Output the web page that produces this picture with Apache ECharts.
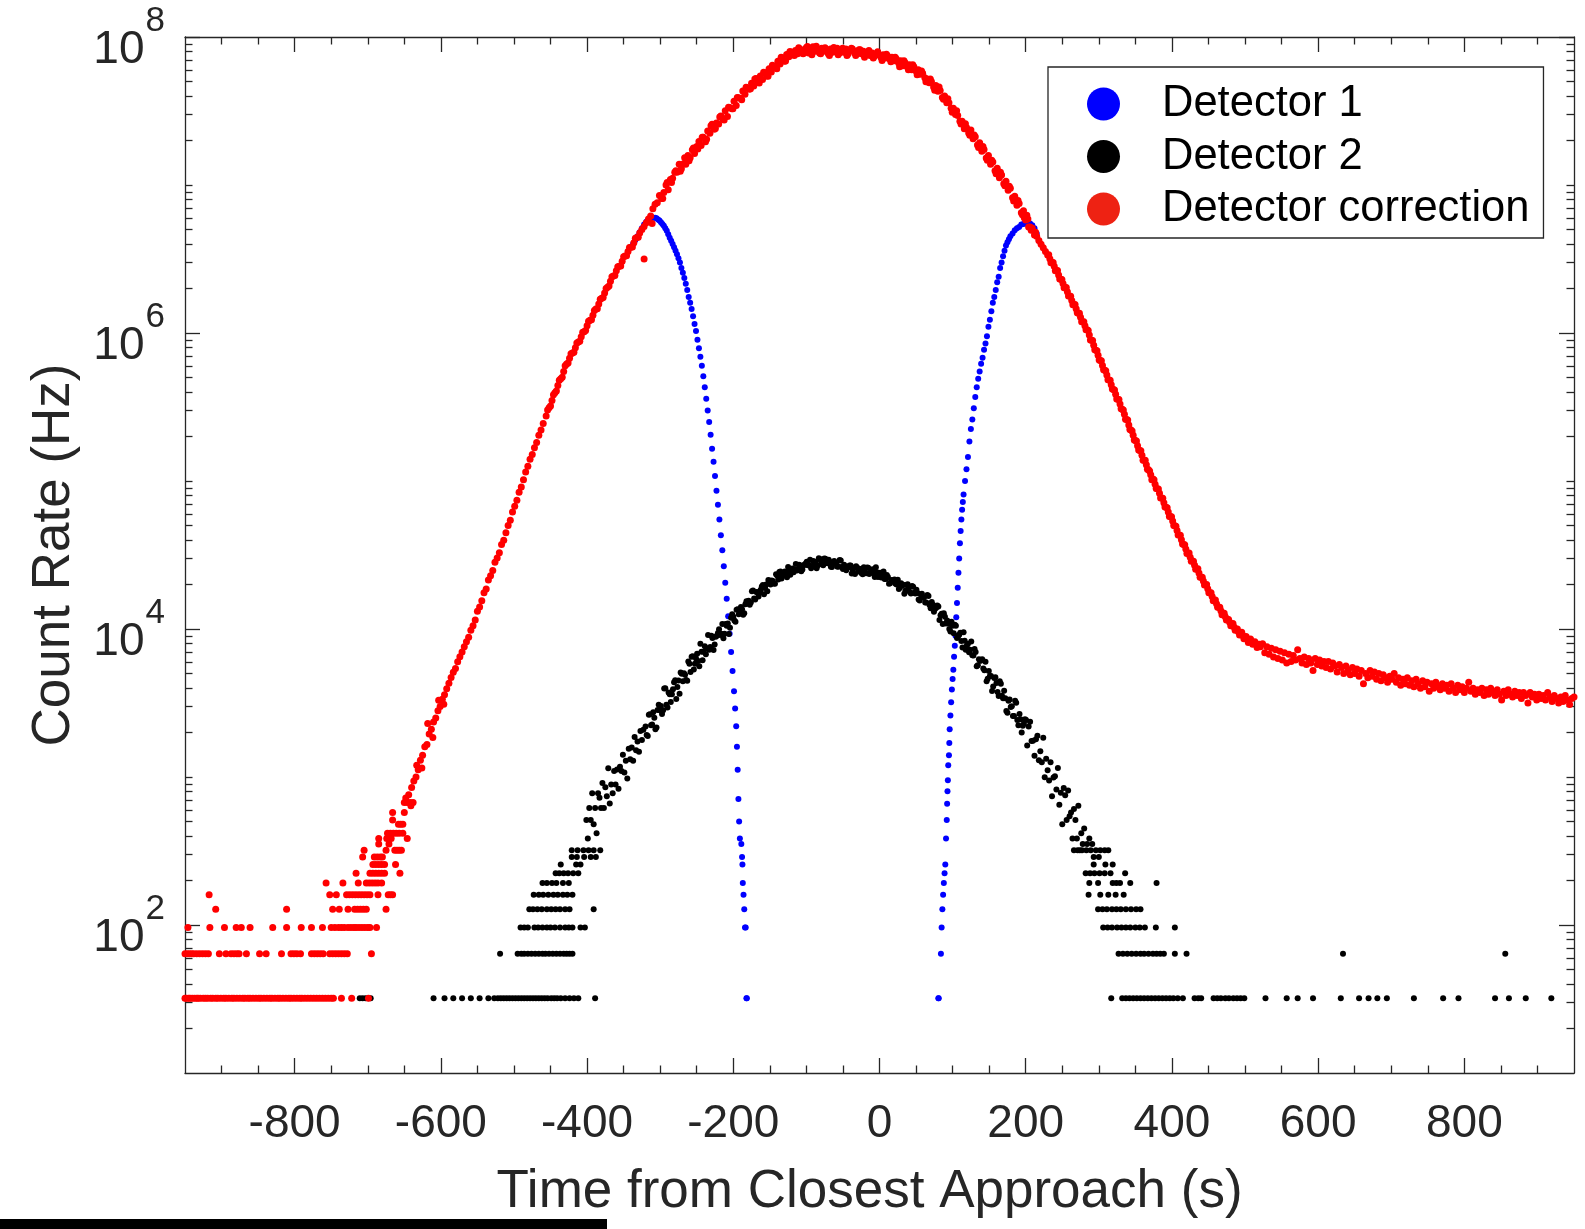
<!DOCTYPE html>
<html>
<head>
<meta charset="utf-8">
<script src="https://cdn.jsdelivr.net/npm/echarts@6/dist/echarts.min.js"></script>
<style>html,body{margin:0;padding:0;background:#fff}#c{width:1585px;height:1229px}</style>
</head>
<body>
<div id="c"></div>
<script>
// ---------- tick labels ----------
const xMajorTicks = [-800, -600, -400, -200, 0, 200, 400, 600, 800];
const yMajorTicks = [1e2, 1e4, 1e6, 1e8];
const seriesNames = ['Detector 1', 'Detector 2', 'Detector correction'];

// ---------- Detector 1 (blue) ----------
const det1Left = [[-337,4.0e6],[-334,4.25e6],[-331,4.5e6],[-328,4.8e6],[-325,5.1e6],[-322,5.4e6],[-319,5.65e6],[-316,5.85e6],[-313,5.95e6],[-310,6.0e6],
[-307,6.0e6],[-305,5.95e6],[-303,5.85e6],[-301,5.75e6],[-299,5.6e6],[-297,5.45e6],[-295,5.3e6],[-293,5.1e6],[-291,4.9e6],[-289,4.65e6],[-287,4.4e6],[-285,4.2e6],[-283,4.0e6],[-281,3.8e6],[-279,3.6e6],[-277,3.4e6],[-275,3.2e6],[-273,3.0e6],[-271,2.75e6],[-269,2.55e6],[-267,2.35e6],[-265,2.15e6],[-263,1.95e6],[-261,1.75e6],[-259,1.6e6],[-257,1.45e6],[-255,1.3e6],[-253,1.15e6],[-251,1.03e6],[-249,9.0e5],[-247,7.9e5],[-245,6.9e5],[-243,6.0e5],[-241,5.1e5],[-239,4.3e5],[-237,3.6e5],[-235,3.0e5],[-233,2.5e5],[-231,2.05e5],[-229,1.65e5],[-227,1.35e5],[-225,1.08e5],[-223,8.6e4],[-221,6.9e4],[-219,5.5e4],[-217,4.3e4],[-215,3.4e4],[-213,2.65e4],[-211,2.05e4],[-209,1.6e4],[-207,1.22e4],[-205,9.3e3],[-203,7.0e3],[-201,5.2e3],[-199,3.8e3],[-197.5,2.9e3],[-196,2.2e3],[-195,1.6e3],[-194,1.12e3],[-193,710],[-192,500],[-191,384],[-189,352],[-188,288],[-187.5,256],[-187,192],[-186,160],[-185,128],[-184,96],[-183,96],[-182,32],[-181.5,32]];
const det1Right = [[218,4.2e6],[215,4.7e6],[212,5.1e6],[209,5.35e6],[206,5.5e6],[203,5.5e6],[200,5.5e6],[197,5.45e6],[194,5.4e6],[191,5.2e6],[188,5.1e6],[185,4.95e6],[182,4.7e6],[179,4.5e6],[177,4.3e6],[175,4.1e6],[173,3.9e6],[171,3.6e6],[169,3.3e6],[167,3.0e6],[165,2.75e6],[163,2.4e6],[161,2.2e6],[159,1.95e6],[157,1.75e6],[155,1.6e6],[153,1.4e6],[151,1.23e6],[149,1.1e6],[147,9.5e5],[145,8.5e5],[143,7.7e5],[141,6.8e5],[139,6.2e5],[137,5.5e5],[135,4.9e5],[133,4.3e5],[131,3.7e5],[129,3.1e5],[127,2.6e5],[125,2.25e5],[123,1.85e5],[121,1.45e5],[119,1.2e5],[117,1.0e5],[115,8.1e4],[114,7.2e4],[113,6.4e4],[112,5.5e4],[111,4.6e4],[110,3.8e4],[109,3.0e4],[108,2.4e4],[107,1.9e4],[106,1.5e4],[105,1.2e4],[104,9.0e3],[103,7.7e3],[102,6.5e3],[101,5.3e3],[100,4.6e3],[99,3.9e3],[98,3.2e3],[97,2.6e3],[96,2.1e3],[95.5,1.7e3],[95,1.4e3],[94,1.2e3],[93.5,950],[93,800],[92.5,660],[92,512],[91,384],[90,256],[89,224],[88,192],[87,160],[86,128],[85,96],[84,64],[81,32],[80.5,32]];

// ---------- Detector 2 (black) ----------
const det2LowLeft = [[-711,32],[-707,32],[-703,32],[-699,32],[-696,32],[-610,32],[-595,32],[-583,32],[-571,32],[-559,32],[-547,32],[-535,32],[-527,32],[-522,32],[-518,32],[-514,32],[-510,32],[-506,32],[-502,32],[-498,32],[-494,32],[-490,32],[-486,32],[-482,32],[-478,32],[-474,32],[-470,32],[-466,32],[-462,32],[-458,32],[-454,32],[-449,32],[-445,32],[-441,32],[-436,32],[-430,32],[-424,32],[-418,32],[-412,32],[-389,32],
[-519,64],[-495,64],[-490,64],[-486,64],[-481,64],[-476,64],[-471,64],[-466,64],[-461,64],[-457,64],[-452,64],[-447,64],[-442,64],[-437,64],[-432,64],[-428,64],[-424,64],[-420,64],
[-491,96],[-486,96],[-481,96],[-472,96],[-467,96],[-461,96],[-455,96],[-450,96],[-444,96],[-437,96],[-430,96],[-425,96],[-420,96],[-409,96],[-403,96],
[-479,128],[-474,128],[-468,128],[-462,128],[-455,128],[-449,128],[-443,128],[-437,128],[-430,128],[-424,128],[-391,128],
[-473,160],[-466,160],[-460,160],[-453,160],[-446,160],[-440,160],[-433,160],[-427,160],[-420,160],
[-461,192],[-455,192],[-448,192],[-442,192],[-433,192],[-425,192],
[-443,224],[-438,224],[-432,224],[-426,224],[-419,224],[-412,224],
[-436,256],[-415,256],[-409,256],
[-421,288],[-414,288],[-404,288],[-395,288],[-388,288],
[-421,320],[-413,320],[-405,320],[-398,320],[-391,320],[-382,320]];
const det2Curve = [[-401,512],[-399,384],[-397,617],[-395,512],[-393,776],[-391,480],[-389,617],[-387,416],[-385,776],[-383,724],[-381,617],[-379,912],[-377,617],[-375,851],[-373,741],[-371,1148],[-369,661],[-367,891],[-365,776],[-363,1096],[-361,891],[-359,1122],[-357,832],[-355,1175],[-353,1096],[-351,1413],[-349,1072],[-347,1288],[-345,977],[-343,1549],[-341,1318],[-339,1585],[-337,1288],[-335,1862],[-333,1514],[-331,1738],[-329,1479],[-327,2042],[-325,1778],[-323,2089],
[-320,2.19e3],[-317,1.89e3],[-314,2.65e3],[-311,2.26e3],[-308,2.51e3],[-305,2.16e3],[-302,3.08e3],[-299,3.02e3],[-296,2.82e3],[-293,3.98e3],[-290,2.95e3],[-287,3.63e3],[-284,3.63e3],[-281,4.37e3],[-278,3.37e3],[-275,4.49e3],[-272,5.09e3],[-269,4.43e3],[-266,4.91e3],[-263,4.47e3],[-260,5.82e3],[-257,6.5e3],[-254,5.32e3],[-251,6.31e3],[-248,6.08e3],[-245,7.94e3],[-242,6.14e3],[-239,7.64e3],[-236,7.41e3],[-233,7.24e3],[-230,9.02e3],[-227,7.21e3],[-224,8.85e3],[-221,9.4e3],[-218,9.12e3],[-215,1.08e4],[-212,9.3e3],[-209,1.05e4],[-206,9.25e3],[-203,1.19e4],[-200,1.21e4],[-197,1.12e4],[-194,1.36e4],[-191,1.28e4],[-188,1.36e4],[-185,1.28e4],[-182,1.54e4],[-179,1.55e4],[-176,1.51e4],[-173,1.82e4],[-170,1.58e4],[-167,1.77e4],[-164,1.77e4],[-161,1.94e4],[-158,1.72e4],[-155,2.0e4],[-152,2.14e4],[-149,2.0e4],[-146,2.11e4],[-143,2.02e4],[-140,2.3e4],[-137,2.43e4],[-134,2.19e4],[-131,2.37e4],[-128,2.33e4],[-125,2.62e4],[-122,2.33e4],[-119,2.56e4],[-116,2.51e4],[-113,2.48e4],[-110,2.72e4],[-107,2.46e4],[-104,2.7e4],[-101,2.77e4],[-98,2.7e4],[-95,2.94e4],[-92,2.66e4],[-89,2.81e4],[-86,2.57e4],[-83,3.01e4],[-80,2.88e4],[-77,2.7e4],[-74,2.98e4],[-71,2.78e4],[-68,2.82e4],[-65,2.62e4],[-62,2.88e4],[-59,2.79e4],[-56,2.64e4],[-53,2.9e4],[-50,2.54e4],[-47,2.65e4],[-44,2.58e4],[-41,2.69e4],[-38,2.37e4],[-35,2.59e4],[-32,2.65e4],[-29,2.45e4],[-26,2.49e4],[-23,2.34e4],[-20,2.54e4],[-17,2.6e4],[-14,2.35e4],[-11,2.47e4],[-8,2.38e4],[-5,2.61e4],[-2,2.25e4],[1,2.4e4],[4,2.28e4],[7,2.18e4],[10,2.32e4],[13,2.02e4],[16,2.14e4],[19,2.13e4],[22,2.02e4],[25,2.15e4],[28,1.91e4],[31,1.97e4],[34,1.73e4],[37,1.98e4],[40,1.91e4],[43,1.74e4],[46,1.93e4],[49,1.74e4],[52,1.75e4],[55,1.56e4],[58,1.73e4],[61,1.64e4],[64,1.51e4],[67,1.67e4],[70,1.38e4],[73,1.46e4],[76,1.37e4],[79,1.44e4],[82,1.15e4],[85,1.27e4],[88,1.28e4],[91,1.09e4],[94,1.09e4],[97,9.6e3],[100,1.05e4],[103,1.07e4],[106,8.69e3],[109,9.14e3],[112,8.3e3],[115,9.51e3],[118,7.23e3],[121,7.94e3],[124,7.24e3],[127,6.64e3],[130,7.33e3],[133,5.61e3],[136,6.25e3],[139,6.12e3],[142,5.41e3],[145,6.0e3],[148,4.61e3],[151,4.81e3],[154,3.81e3],[157,4.66e3],[160,4.32e3],[163,3.53e3],[166,4.27e3],[169,3.41e3],[172,3.4e3],[175,2.72e3],[178,3.34e3],[181,3.01e3],[184,2.58e3],[187,3.17e3],[190,2.24e3],[193,2.46e3],[196,2.22e3],[199,2.46e3],[202,1.63e3],
[204,2.19e3],[206,2.36e3],[208,1.75e3],[210,1.76e3],[212,1.39e3],[214,1.8e3],[216,1.9e3],[218,1.3e3],[220,1.49e3],[222,1.26e3],[224,1.84e3],[226,998],[228,1.33e3],[230,1.11e3],[232,946],[234,1.26e3],[236,741],[238,991],[240,1.01e3],[242,822],[244,1.15e3],[246,650],[248,783],[250,480],[252,843],[254,753],[256,512],[258,811],[260,544],[262,576],[264,384],[266,608],[268,512],[270,384],[272,640],[274,320],[276,416],[278,352],[280,448],[284,352],[287,384],[291,352]];
const det2CurveB = [[-318.5,1.92e3],[-315.5,2.63e3],[-312.5,2.24e3],[-309.5,2.74e3],[-306.5,2.1e3],[-303.5,2.84e3],[-300.5,2.82e3],[-297.5,2.67e3],[-294.5,3.96e3],[-291.5,3.08e3],[-288.5,3.72e3],[-285.5,3.21e3],[-282.5,3.92e3],[-279.5,4.5e3],[-276.5,4.06e3],[-273.5,3.65e3],[-270.5,4.98e3],[-267.5,5.02e3],[-264.5,4.53e3],[-261.5,6.03e3],[-258.5,5.12e3],[-255.5,6.55e3],[-252.5,5.83e3],[-249.5,6.81e3],[-246.5,5.6e3],[-243.5,7.03e3],[-240.5,7.03e3],[-237.5,6.75e3],[-234.5,9.12e3],[-231.5,7.57e3],[-228.5,8.69e3],[-225.5,7.85e3],[-222.5,9.02e3],[-219.5,9.95e3],[-216.5,9.29e3],[-213.5,8.65e3],[-210.5,1.08e4],[-207.5,1.09e4],[-204.5,1.02e4],[-201.5,1.26e4],[-198.5,1.14e4],[-195.5,1.35e4],[-192.5,1.26e4],[-189.5,1.41e4],[-186.5,1.25e4],[-183.5,1.47e4],[-180.5,1.49e4],[-177.5,1.46e4],[-174.5,1.8e4],[-171.5,1.61e4],[-168.5,1.78e4],[-165.5,1.66e4],[-162.5,1.84e4],[-159.5,1.98e4],[-156.5,1.89e4],[-153.5,1.8e4],[-150.5,2.12e4],[-147.5,2.13e4],[-144.5,2.03e4],[-141.5,2.34e4],[-138.5,2.16e4],[-135.5,2.45e4],[-132.5,2.29e4],[-129.5,2.45e4],[-126.5,2.24e4],[-123.5,2.48e4],[-120.5,2.48e4],[-117.5,2.42e4],[-114.5,2.75e4],[-111.5,2.52e4],[-108.5,2.69e4],[-105.5,2.52e4],[-102.5,2.72e4],[-99.5,2.85e4],[-96.5,2.71e4],[-93.5,2.57e4],[-90.5,2.88e4],[-87.5,2.84e4],[-84.5,2.69e4],[-81.5,2.97e4],[-78.5,2.74e4],[-75.5,2.99e4],[-72.5,2.79e4],[-69.5,2.94e4],[-66.5,2.63e4],[-63.5,2.84e4],[-60.5,2.76e4],[-57.5,2.63e4],[-54.5,2.92e4],[-51.5,2.61e4],[-48.5,2.72e4],[-45.5,2.49e4],[-42.5,2.62e4],[-39.5,2.69e4],[-36.5,2.51e4],[-33.5,2.35e4],[-30.5,2.59e4],[-27.5,2.55e4],[-24.5,2.38e4],[-21.5,2.61e4],[-18.5,2.38e4],[-15.5,2.59e4],[-12.5,2.41e4],[-9.5,2.53e4],[-6.5,2.25e4],[-3.5,2.42e4],[-0.5,2.34e4],[2.5,2.23e4],[5.5,2.45e4],[8.5,2.18e4],[11.5,2.25e4],[14.5,2.04e4],[17.5,2.12e4],[20.5,2.16e4],[23.5,2.0e4],[26.5,1.86e4],[29.5,2.04e4],[32.5,1.99e4],[35.5,1.82e4],[38.5,2.01e4],[41.5,1.78e4],[44.5,1.95e4],[47.5,1.76e4],[50.5,1.84e4],[53.5,1.58e4],[56.5,1.71e4],[59.5,1.63e4],[62.5,1.51e4],[65.5,1.7e4],[68.5,1.45e4],[71.5,1.52e4],[74.5,1.31e4],[77.5,1.39e4],[80.5,1.42e4],[83.5,1.24e4],[86.5,1.08e4],[89.5,1.21e4],[92.5,1.14e4],[95.5,1.0e4],[98.5,1.12e4],[101.5,9.35e3],[104.5,1.05e4],[107.5,8.95e3],[110.5,9.42e3],[113.5,7.5e3],[116.5,8.32e3],[119.5,7.73e3],[122.5,6.97e3],[125.5,8.22e3],[128.5,6.61e3],[131.5,6.98e3],[134.5,5.69e3],[137.5,6.11e3],[140.5,6.25e3],[143.5,5.27e3],[146.5,4.44e3],[149.5,5.21e3],[152.5,4.82e3],[155.5,4.08e3],[158.5,4.72e3],[161.5,3.75e3],[164.5,4.43e3],[167.5,3.54e3],[170.5,3.82e3],[173.5,2.79e3],[176.5,3.27e3],[179.5,2.97e3],[182.5,2.58e3],[185.5,3.28e3],[188.5,2.43e3],[191.5,2.66e3],[194.5,2.0e3],[197.5,2.29e3],[200.5,2.43e3]];
const det2LowRight = [[266,320],[271,320],[277,320],[283,320],[289,320],[296,320],[302,320],[308,320],[313,320],
[293,288],[300,288],[293,256],[309,256],[319,256],
[282,224],[288,224],[294,224],[301,224],[308,224],[316,224],[336,224],
[287,192],[299,192],[319,192],[324,192],[329,192],[343,192],[379,192],
[286,160],[302,160],[313,160],[323,160],[334,160],
[299,128],[305,128],[311,128],[318,128],[324,128],[330,128],[337,128],[344,128],[351,128],[357,128],
[306,96],[312,96],[318,96],[325,96],[331,96],[337,96],[343,96],[350,96],[356,96],[363,96],[378,96],[404,96],
[327,64],[333,64],[339,64],[345,64],[351,64],[357,64],[362,64],[368,64],[374,64],[379,64],[384,64],[389,64],[404,64],[420,64],[634,64],[856,64],
[317,32],[332,32],[337,32],[342,32],[347,32],[352,32],[357,32],[362,32],[367,32],[372,32],[377,32],[382,32],[387,32],[392,32],[397,32],[402,32],[408,32],[415,32],[431,32],[436,32],[440,32],[457,32],[462,32],[467,32],[473,32],[478,32],[484,32],[489,32],[494,32],[499,32],[528,32],[557,32],[572,32],[593,32],[631,32],[656,32],[669,32],[681,32],[694,32],[731,32],[771,32],[792,32],[842,32],[861,32],[884,32],[919,32]];

// ---------- Detector correction (red) ----------
const corrLowTail = [[-950,32],[-948,32],[-945,32],[-943,32],[-940,32],[-937,32],[-934,32],[-932,32],[-929,32],[-925,32],[-922,32],[-919,32],[-915,32],[-912,32],[-908,32],[-905,32],[-901,32],[-897,32],[-894,32],[-890,32],[-886,32],[-883,32],[-879,32],[-875,32],[-871,32],[-868,32],[-864,32],[-861,32],[-857,32],[-853,32],[-849,32],[-846,32],[-842,32],[-838,32],[-834,32],[-831,32],[-827,32],[-823,32],[-820,32],[-816,32],[-812,32],[-808,32],[-805,32],[-801,32],[-797,32],[-793,32],[-790,32],[-786,32],[-782,32],[-778,32],[-774,32],[-770,32],[-766,32],[-762,32],[-758,32],[-754,32],[-750,32],[-747,32],[-736,32],[-722,32],[-699,32],
[-950,64],[-947,64],[-944,64],[-941,64],[-938,64],[-934,64],[-930,64],[-926,64],[-922,64],[-918,64],[-903,64],[-894,64],[-887,64],[-883,64],[-879,64],[-876,64],[-866,64],[-848,64],[-839,64],[-818,64],[-805,64],[-801,64],[-797,64],[-792,64],[-777,64],[-773,64],[-769,64],[-765,64],[-761,64],[-752,64],[-748,64],[-744,64],[-740,64],[-736,64],[-732,64],[-728,64],[-695,64],
[-946,96],[-916,96],[-896,96],[-880,96],[-873,96],[-861,96],[-830,96],[-811,96],[-791,96],[-777,96],[-762,96],[-750,96],[-745,96],[-740,96],[-736,96],[-732,96],[-727,96],[-723,96],[-719,96],[-716,96],[-712,96],[-708,96],[-704,96],[-700,96],[-697,96],[-688,96],
[-908,128],[-811,128],[-748,128],[-739,128],[-727,128],[-718,128],[-714,128],[-710,128],[-706,128],[-702,128],[-675,128],
[-917,160],[-752,160],[-743,160],[-729,160],[-725,160],[-721,160],[-717,160],[-713,160],[-709,160],[-705,160],[-701,160],[-697,160],[-686,160],[-672,160],[-669,160],[-666,160],
[-757,192],[-734,192],[-713,192],[-702,192],[-698,192],[-694,192],[-690,192],[-686,192],[-681,192],
[-716,224],[-697,224],[-693,224],[-689,224],[-685,224],[-681,224],[-677,224],[-656,224],
[-693,256],[-689,256],[-685,256],[-681,256],[-677,256],[-662,256],
[-707,288],[-691,288],[-687,288],[-683,288],[-680,288],
[-705,320],[-675,320],[-663,320],[-660,320],[-657,320],[-654,320],
[-685,352],[-671,352],
[-685,384],[-674,384],[-671,384],[-668,384],[-646,384],
[-673,416],[-669,416],[-665,416],[-661,416],[-657,416],[-652,416],
[-658,480],[-655,480],[-652,480],[-666,512],[-666,576],[-650,576],
[-650,672],[-646,672],[-642,672],[-638,672]];
const corrCurve = [[-648,720],[-644,760],[-641,640],[-640,850],[-637,940],[-634,1000],[-633,1200],[-631,1120],[-628,1300],[-626,1150],[-625,1400],[-622,1600],[-619,1660],[-618,2300],[-616,1950],[-613,2100],[-611,1850],[-610,2350],[-607,2500],[-604,2800],[-603,3300],[-601,3000],[-598,3350],[-596,3100],[-595,3600],[-592,3950],[-589,4300],[-586,4700],[-583,5100],[-580,5400],[-577,6000],[-574,6500],[-571,7000],[-568,7600],[-565,8200],[-562,8800],
[-559,9.8e3],[-556,1.05e4],[-553,1.15e4],[-550,1.32e4],[-547,1.41e4],[-544,1.55e4],[-541,1.76e4],[-538,1.86e4],[-535,2.14e4],[-532,2.29e4],[-529,2.48e4],[-526,2.82e4],[-523,3.02e4],[-520,3.27e4],[-517,3.72e4],[-514,3.98e4],[-511,4.47e4],[-508,5.0e4],[-505,5.43e4],[-502,6.17e4],[-499,6.76e4],[-496,7.41e4],[-493,8.41e4],[-490,9.12e4],[-487,1.02e5],[-484,1.15e5],[-481,1.26e5],[-478,1.4e5],[-475,1.51e5],[-472,1.68e5],[-469,1.82e5],[-466,2.04e5],[-463,2.21e5],[-460,2.45e5],
[-456,2.75e5],[-452,3.13e5],[-448,3.5e5],[-444,3.94e5],[-440,4.42e5],[-436,4.9e5],[-432,5.5e5],[-428,6.17e5],[-424,6.76e5],[-420,7.33e5],[-416,7.94e5],[-412,8.7e5],[-408,9.44e5],[-404,1.02e6],[-400,1.12e6],[-396,1.22e6],[-392,1.32e6],[-388,1.45e6],[-384,1.57e6],[-380,1.72e6],[-376,1.86e6],[-372,2.04e6],[-368,2.24e6],[-364,2.43e6],[-360,2.63e6],[-356,2.82e6],[-352,3.05e6],[-348,3.31e6],[-344,3.55e6],[-340,3.8e6],[-336,4.07e6],[-332,4.42e6],[-328,4.73e6],[-325,5.0e6],[-322,3.16e6],[-322,5.25e6],[-319,5.56e6],[-316,5.9e6],[-313,6.17e6],[-311,5.5e6],[-310,6.9e6],
[-307,7.4e6],[-304,7.6e6],[-301,8.5e6],[-298,8.1e6],[-295,8.9e6],[-292,1.0e7],[-289,9.3e6],[-286,1.09e7],[-283,1.11e7],[-280,1.22e7],[-277,1.22e7],[-274,1.38e7],[-271,1.29e7],[-268,1.39e7],[-265,1.38e7],[-262,1.58e7],[-259,1.53e7],[-256,1.73e7],[-253,1.63e7],[-250,1.82e7],[-247,1.97e7],[-244,1.85e7],[-241,2.1e7],[-238,1.96e7],[-235,2.32e7],[-232,2.24e7],[-229,2.57e7],[-226,2.38e7],[-223,2.62e7],[-220,2.58e7],[-217,2.93e7],[-214,2.79e7],[-211,3.17e7],[-208,2.9e7],[-205,3.34e7],[-202,3.28e7],[-199,3.68e7],[-196,3.45e7],[-193,3.88e7],[-190,3.86e7],[-187,4.31e7],[-184,4.1e7],[-181,4.54e7],[-178,4.43e7],[-175,4.87e7],[-172,4.66e7],[-169,5.25e7],[-166,5.03e7],[-163,5.46e7],[-160,5.16e7],[-157,5.73e7],[-154,5.45e7],[-151,6.1e7],[-148,5.79e7],[-145,6.36e7],[-142,6.27e7],[-139,6.87e7],[-136,6.56e7],[-133,7.2e7],[-130,6.87e7],[-127,7.62e7],[-124,7.35e7],[-121,7.9e7],[-118,7.6e7],
[-115,8.1e7],[-112,7.7e7],[-109,8.3e7],[-106,7.9e7],[-103,8.2e7],[-100,8.5e7],[-97,7.8e7],[-94,8.1e7],[-91,8.6e7],[-88,8.0e7],[-85,8.3e7],[-82,7.8e7],[-79,8.4e7],[-76,8.0e7],[-73,8.2e7],[-70,7.7e7],[-67,8.3e7],[-64,7.9e7],[-61,8.1e7],[-58,8.4e7],[-55,7.8e7],[-52,8.2e7],[-49,7.9e7],[-46,8.3e7],[-43,7.7e7],[-40,8.1e7],[-37,8.3e7],[-34,7.8e7],[-31,8.0e7],[-28,8.2e7],[-25,7.7e7],[-22,8.0e7],[-19,7.6e7],[-16,7.9e7],[-13,7.5e7],[-10,7.8e7],[-7,7.4e7],[-4,7.7e7],[-1,7.6e7],[2,7.3e7],[5,7.6e7],[8,7.2e7],[11,7.45e7],[14,7.1e7],[17,7.3e7],[20,6.9e7],[23,7.1e7],[26,6.7e7],[29,6.9e7],[32,6.4e7],[35,6.7e7],[38,6.3e7],[41,6.5e7],[44,6.0e7],[47,6.3e7],[50,5.9e7],[53,6.0e7],[56,5.6e7],[59,5.7e7],[62,5.3e7],[65,5.2e7],[68,4.9e7],[71,5.0e7],[74,4.6e7],[77,4.7e7],[80,4.3e7],[83,4.35e7],[86,3.9e7],[89,4.0e7],[92,3.6e7],[95,3.6e7],[98,3.3e7],[101,3.3e7],[104,3.0e7],[107,2.95e7],[110,2.7e7],[113,2.7e7],[116,2.4e7],[119,2.45e7],
[122,2.25e7],[125,2.35e7],[128,2.05e7],[131,2.12e7],[134,1.86e7],[137,1.93e7],[140,1.69e7],[143,1.74e7],[146,1.52e7],[149,1.58e7],[152,1.38e7],[155,1.43e7],[158,1.25e7],[161,1.3e7],[164,1.12e7],[167,1.17e7],[170,1.02e7],[173,1.06e7],[176,9.2e6],[179,9.5e6],[182,8.2e6],[185,8.4e6],[188,7.3e6],[191,7.5e6],[194,6.5e6],[197,6.7e6],[198,6.0e6],[200,5.8e6],[203,5.9e6],[204,5.2e6],[206,5.2e6],[209,5.1e6],[212,4.6e6],[215,4.5e6],
[218,4.22e6],[221,3.98e6],[224,3.77e6],[227,3.55e6],[230,3.36e6],[233,3.17e6],[236,3.0e6],[239,2.82e6],[242,2.64e6],[245,2.47e6],[248,2.31e6],[251,2.16e6],[254,2.03e6],[257,1.9e6],[260,1.78e6],[263,1.66e6],[266,1.56e6],[269,1.46e6],[272,1.36e6],[275,1.28e6],[278,1.19e6],[281,1.12e6],[284,1.05e6],[287,9.68e5],[290,8.95e5],[293,8.28e5],[296,7.66e5],[299,7.08e5],[302,6.53e5],[305,6.04e5],[308,5.6e5],[311,5.2e5],[314,4.82e5],[317,4.47e5],[320,4.15e5],[323,3.85e5],[326,3.57e5],[329,3.31e5],[332,3.05e5],[335,2.82e5],[338,2.6e5],[341,2.39e5],[344,2.21e5],[347,2.04e5],[350,1.88e5],[353,1.73e5],[356,1.61e5],[359,1.49e5],[362,1.38e5],[365,1.29e5],[368,1.19e5],[371,1.1e5],[374,1.03e5],[377,9.5e4],[380,8.87e4],[383,8.26e4],[386,7.67e4],[389,7.14e4],[392,6.65e4],[395,6.18e4],[398,5.75e4],[401,5.36e4],[404,4.98e4],[407,4.63e4],[410,4.31e4],[413,4.01e4],[416,3.73e4],[419,3.47e4],[422,3.25e4],[425,3.05e4],[428,2.88e4],[431,2.7e4],[434,2.54e4],[437,2.39e4],[440,2.24e4],[443,2.11e4],[446,1.99e4],[449,1.87e4],[452,1.76e4],[455,1.66e4],[458,1.56e4],[461,1.48e4],[464,1.4e4],[467,1.33e4],[470,1.27e4],[473,1.21e4],[476,1.16e4],[479,1.11e4],[482,1.07e4],[485,1.03e4],[488,9.9e3],[491,9.57e3],[494,9.31e3],[497,9.04e3],[500,8.77e3],[503,8.51e3],[506,8.35e3],[509,8.19e3],[512,8.03e3],[515,7.88e3],[518,7.73e3],[521,7.59e3]];
const corrFlankB = [[-454,3.02e5],[-450,3.21e5],[-446,3.82e5],[-442,4.05e5],[-438,4.79e5],[-434,5.03e5],[-430,6.0e5],[-426,6.26e5],[-422,7.25e5],[-418,7.4e5],[-414,8.56e5],[-410,8.79e5],[-406,1.01e6],[-402,1.04e6],[-398,1.2e6],[-394,1.23e6],[-390,1.42e6],[-386,1.46e6],[-382,1.69e6],[-378,1.74e6],[-374,2.0e6],[-370,2.08e6],[-366,2.4e6],[-362,2.45e6],[-358,2.8e6],[-354,2.84e6],[-350,3.28e6],[-346,3.33e6],[-342,3.78e6],[-338,3.81e6],[-334,4.37e6],[-330,4.43e6],
[-296.5,8.1e6],[-290.5,1.04e7],[-284.5,1.04e7],[-278.5,1.25e7],[-272.5,1.24e7],[-266.5,1.53e7],[-260.5,1.46e7],[-254.5,1.78e7],[-248.5,1.75e7],[-242.5,2.1e7],[-236.5,2.04e7],[-230.5,2.51e7],[-224.5,2.41e7],[-218.5,2.88e7],[-212.5,2.75e7],[-206.5,3.35e7],[-200.5,3.28e7],[-194.5,3.9e7],[-188.5,3.76e7],[-182.5,4.58e7],[-176.5,4.47e7],[-170.5,5.2e7],[-164.5,4.89e7],[-158.5,5.78e7],[-152.5,5.43e7],[-146.5,6.44e7],[-140.5,6.11e7],[-134.5,7.29e7],[-128.5,6.88e7],[-122.5,7.98e7],[-116.5,7.5e7],[-110.5,8.45e7],[-104.5,7.7e7],[-98.5,8.64e7],[-92.5,7.6e7],[-86.5,8.67e7],[-80.5,7.7e7],[-74.5,8.45e7],[-68.5,7.5e7],[-62.5,8.5e7],[-56.5,7.6e7],[-50.5,8.4e7],[-44.5,7.5e7],[-38.5,8.4e7],[-32.5,7.5e7],[-26.5,8.2e7],[-20.5,7.3e7],[-14.5,8.1e7],[-8.5,7.2e7],[-2.5,7.95e7],[3.5,6.95e7],[9.5,7.65e7],[15.5,6.8e7],[21.5,7.3e7],[27.5,6.3e7],[33.5,6.9e7],[39.5,6.0e7],[45.5,6.5e7],[51.5,5.55e7],[57.5,5.9e7],[63.5,4.99e7],[69.5,5.2e7],[75.5,4.37e7],[81.5,4.6e7],[87.5,3.8e7],[93.5,3.83e7],[99.5,3.1e7],[105.5,3.18e7],[111.5,2.58e7],[117.5,2.59e7],[123.5,2.17e7],[129.5,2.18e7],[135.5,1.79e7],[141.5,1.82e7],[147.5,1.47e7],[153.5,1.47e7],[159.5,1.19e7],[165.5,1.22e7],[171.5,9.9e6],[177.5,9.8e6],[183.5,7.8e6],[189.5,7.85e6],[195.5,6.3e6],[201.5,6.25e6],[207.5,4.95e6],[213.5,4.8e6],
[231.5,3.38e6],[234.5,2.98e6],[237.5,3.0e6],[240.5,2.63e6],[243.5,2.64e6],[246.5,2.32e6],[249.5,2.3e6],[252.5,2.02e6],[255.5,2.03e6],[258.5,1.78e6],[261.5,1.77e6],[264.5,1.55e6],[267.5,1.56e6],[270.5,1.37e6],[273.5,1.36e6],[276.5,1.19e6],[279.5,1.19e6],[282.5,1.05e6],[285.5,1.04e6],[288.5,8.98e5],[291.5,8.91e5],[294.5,7.72e5],[297.5,7.58e5],[300.5,6.56e5],[303.5,6.5e5],[306.5,5.64e5],[309.5,5.56e5],[312.5,4.83e5],[315.5,4.8e5],[318.5,4.18e5],[321.5,4.12e5],[324.5,3.58e5],[327.5,3.56e5],[330.5,3.08e5],[333.5,3.02e5],[336.5,2.61e5],[339.5,2.58e5],[342.5,2.23e5],[345.5,2.18e5],[348.5,1.89e5],[351.5,1.86e5],[354.5,1.62e5],[357.5,1.6e5],[360.5,1.38e5],[363.5,1.38e5],[366.5,1.2e5],[369.5,1.17e5],[372.5,1.02e5],[375.5,1.02e5],[378.5,8.9e4],[381.5,8.82e4],[384.5,7.68e4],[387.5,7.66e4],[390.5,6.68e4],[393.5,6.6e4],[396.5,5.75e4],[399.5,5.74e4],[402.5,5.01e4],[405.5,4.94e4],[408.5,4.31e4],[411.5,4.3e4],[414.5,3.75e4],[417.5,3.71e4],[420.5,3.24e4],[423.5,3.26e4],[426.5,2.87e4],[429.5,2.87e4],[432.5,2.53e4],[435.5,2.55e4],[438.5,2.24e4],[441.5,2.24e4],[444.5,1.98e4],[447.5,2.0e4],[450.5,1.76e4],[453.5,1.76e4],[456.5,1.55e4],[459.5,1.57e4],[462.5,1.4e4],[465.5,1.4e4],[468.5,1.25e4],[471.5,1.28e4],[474.5,1.15e4],[477.5,1.16e4],[480.5,1.05e4],[483.5,1.09e4],[486.5,9.8e3],[489.5,1.0e4],[492.5,9.1e3],[495.5,9.5e3],[498.5,8.6e3],[501.5,8.9e3],[504.5,8.1e3],[507.5,8.55e3],[510.5,7.9e3],[513.5,8.2e3],[516.5,7.5e3],[519.5,7.9e3]];
const corrHighTail = [[524,7.94e3],[527,6.92e3],[530,7.59e3],[533,6.76e3],[536,7.41e3],[539,6.46e3],[542,7.24e3],[545,6.31e3],[548,7.08e3],[551,6.17e3],[554,6.92e3],[557,5.89e3],[560,6.76e3],[563,6.03e3],[566,6.61e3],[569,6.17e3],[572,7.24e3],[575,6.31e3],[578,5.89e3],[581,6.46e3],[584,5.75e3],[587,6.31e3],[590,5.89e3],[593,5.25e3],[596,6.31e3],[599,5.75e3],[602,6.17e3],[605,5.62e3],[608,6.03e3],[611,5.5e3],[614,6.03e3],[617,5.37e3],[620,5.89e3],[623,5.62e3],[626,5.13e3],[629,5.75e3],[632,5.5e3],[635,5.01e3],[638,5.62e3],[641,5.25e3],[644,4.9e3],[647,5.5e3],[650,5.01e3],[653,5.37e3],[656,4.79e3],[659,5.25e3],[662,4.27e3],[665,5.01e3],[668,4.68e3],[671,5.25e3],[674,4.79e3],[677,5.13e3],[680,4.57e3],[683,5.01e3],[686,4.47e3],[689,4.9e3],[692,4.68e3],[695,4.37e3],[698,4.79e3],[701,4.57e3],[704,5.01e3],[707,4.37e3],[710,4.68e3],[713,4.17e3],[716,4.57e3],[719,4.27e3],[722,4.68e3],[725,4.17e3],[728,4.47e3],[731,4.07e3],[734,4.57e3],[737,4.27e3],[740,3.98e3],[743,4.47e3],[746,4.07e3],[749,4.37e3],[752,3.8e3],[755,4.27e3],[758,3.98e3],[761,4.37e3],[764,4.07e3],[767,3.89e3],[770,4.27e3],[773,3.98e3],[776,4.17e3],[779,3.8e3],[782,4.27e3],[785,3.98e3],[788,3.72e3],[791,4.17e3],[794,3.89e3],[797,4.07e3],[800,3.72e3],[803,3.98e3],[806,4.37e3],[809,3.8e3],[812,3.98e3],[815,3.63e3],[818,3.89e3],[821,3.72e3],[824,3.98e3],[827,3.55e3],[830,3.89e3],[833,3.63e3],[836,3.98e3],[839,3.72e3],[842,3.55e3],[845,3.89e3],[848,3.63e3],[851,3.31e3],[854,3.8e3],[857,3.55e3],[860,3.89e3],[863,3.63e3],[866,3.47e3],[869,3.8e3],[872,3.55e3],[875,3.72e3],[878,3.39e3],[881,3.72e3],[884,3.55e3],[887,3.16e3],[890,3.72e3],[893,3.47e3],[896,3.63e3],[899,3.31e3],[902,3.63e3],[905,3.39e3],[908,3.55e3],[911,3.31e3],[914,3.72e3],[917,3.47e3],[920,3.24e3],[923,3.55e3],[926,3.39e3],[929,3.16e3],[932,3.47e3],[935,3.24e3],[938,3.55e3],[941,3.31e3],[944,3.09e3],[947,3.39e3],[950,3.47e3]];

// ---------- styling ----------
const FONT = '"Liberation Sans", Arial, Helvetica, sans-serif';
const AXC = '#262626';

// minor tick positions (axis decoration only)
const xMinorTicks = [];
for (let v = -900; v <= 900; v += 50) if (v % 200 !== 0) xMinorTicks.push(v);
const yMinorTicks = [];
for (let e = 1; e <= 7; e++) {
  const p = Math.pow(10, e);
  if (e % 2 === 1 && e > 1) yMinorTicks.push(p);
  for (let k = 2; k <= 9; k++) yMinorTicks.push(k * p);
}

function xAxisDef(pos, ticks, len, main) {
  return {
    type: 'value', gridIndex: 0, position: pos, min: -950, max: 950,
    axisLine: { show: main !== 'none', onZero: false, lineStyle: { color: AXC, width: 1.3 } },
    axisTick: { show: true, inside: true, length: len, customValues: ticks, lineStyle: { color: AXC, width: 1.3 } },
    axisLabel: main === 'label' ? { show: true, customValues: xMajorTicks, fontSize: 46, color: AXC, fontFamily: FONT, margin: 28 } : { show: false },
    splitLine: { show: false },
    name: main === 'label' ? 'Time from Closest Approach (s)' : '',
    nameLocation: 'middle', nameGap: 93,
    nameTextStyle: { fontSize: 53, color: AXC, fontFamily: FONT, padding: [0, 20, 0, 0] }
  };
}
function yAxisDef(pos, ticks, len, main) {
  return {
    type: 'log', logBase: 10, gridIndex: 0, position: pos, min: 10, max: 1e8,
    axisLine: { show: main !== 'none', onZero: false, lineStyle: { color: AXC, width: 1.3 } },
    axisTick: { show: true, inside: true, length: len, customValues: ticks, lineStyle: { color: AXC, width: 1.3 } },
    axisLabel: main === 'label' ? {
      show: true, customValues: yMajorTicks, margin: 20, padding: [3.5, 0, 0, 0],
      formatter: function (v) { return '{b|10}{s|' + Math.round(Math.log10(v)) + '}'; },
      rich: {
        b: { fontSize: 46, color: AXC, fontFamily: FONT, verticalAlign: 'bottom', padding: [23.5, 0, 0, 0] },
        s: { fontSize: 35, color: AXC, fontFamily: FONT, verticalAlign: 'top', padding: [0, 0, 0, 1] }
      }
    } : { show: false },
    splitLine: { show: false },
    name: main === 'label' ? 'Count Rate (Hz)' : '',
    nameLocation: 'middle', nameGap: 104, nameRotate: 90,
    nameTextStyle: { fontSize: 53, color: AXC, fontFamily: FONT }
  };
}

const chart = echarts.init(document.getElementById('c'), null, { renderer: 'canvas' });
chart.setOption({
  animation: false,
  backgroundColor: '#ffffff',
  grid: { left: 185, right: 11, top: 37, bottom: 156, containLabel: false },
  xAxis: [
    xAxisDef('bottom', xMajorTicks, 15, 'label'),
    xAxisDef('bottom', xMinorTicks, 7.5, 'none'),
    xAxisDef('top', xMajorTicks, 15, 'line'),
    xAxisDef('top', xMinorTicks, 7.5, 'none')
  ],
  yAxis: [
    yAxisDef('left', yMajorTicks, 15, 'label'),
    yAxisDef('left', yMinorTicks, 7.5, 'none'),
    yAxisDef('right', yMajorTicks, 15, 'line'),
    yAxisDef('right', yMinorTicks, 7.5, 'none')
  ],
  legend: {
    orient: 'vertical', left: 1048, top: 67,
    padding: [13, 14, 5, 39], itemGap: 4.5,
    itemWidth: 33, itemHeight: 33,
    borderColor: AXC, borderWidth: 1.3, backgroundColor: '#ffffff',
    textStyle: { fontSize: 43.5, color: '#000000', fontFamily: FONT, lineHeight: 48, padding: [0, 0, 0, 37] },
    data: [
      { name: seriesNames[0], icon: 'circle', itemStyle: { color: '#0000ff', opacity: 1 } },
      { name: seriesNames[1], icon: 'circle', itemStyle: { color: '#000000', opacity: 1 } },
      { name: seriesNames[2], icon: 'circle', itemStyle: { color: '#ee2213', opacity: 1 } }
    ],
    selectedMode: false
  },
  series: [
    { type: 'scatter', name: seriesNames[0], xAxisIndex: 0, yAxisIndex: 0, symbol: 'circle', symbolSize: 6, silent: true,
      itemStyle: { color: '#0000ff', opacity: 1 }, data: det1Left.concat(det1Right) },
    { type: 'scatter', name: seriesNames[1], xAxisIndex: 0, yAxisIndex: 0, symbol: 'circle', symbolSize: 6, silent: true,
      itemStyle: { color: '#000000', opacity: 1 }, data: det2LowLeft.concat(det2Curve, det2CurveB, det2LowRight) },
    { type: 'scatter', name: seriesNames[2], xAxisIndex: 0, yAxisIndex: 0, symbol: 'circle', symbolSize: 7, silent: true,
      itemStyle: { color: '#ff0000', opacity: 1 }, data: corrLowTail.concat(corrCurve, corrFlankB, corrHighTail) }
  ],
  graphic: [
    { type: 'rect', left: 0, top: 1219, shape: { width: 607, height: 10 }, style: { fill: '#000000' }, silent: true }
  ]
});
</script>
</body>
</html>
